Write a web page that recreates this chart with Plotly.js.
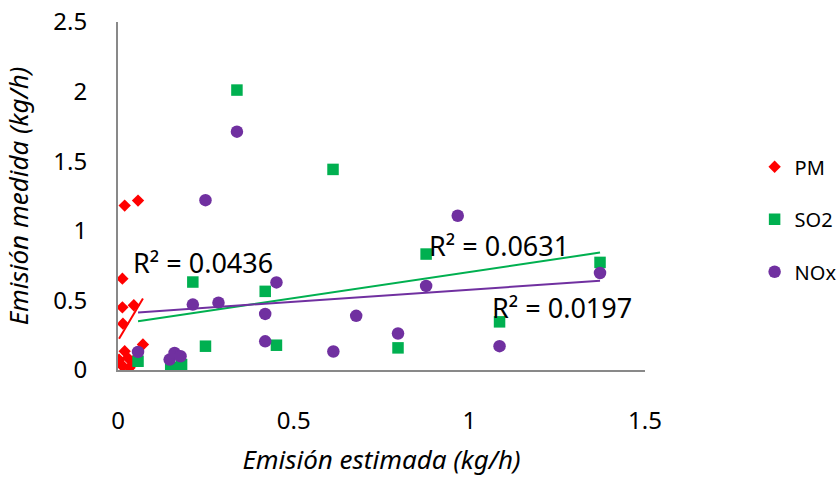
<!DOCTYPE html>
<html>
<head>
<meta charset="utf-8">
<script src="https://cdn.plot.ly/plotly-3.0.1.min.js"></script>
<style>
  html, body { margin: 0; padding: 0; background: #ffffff; }
  #chart { width: 837px; height: 477px; }
</style>
</head>
<body>
<div id="chart"></div>
<script>
// Estimated vs measured emissions (kg/h) for three pollutants

const seriesNames = ['PM', 'SO2', 'NOx'];

const pmX = [0.019, 0.057, 0.0125, 0.0125, 0.045, 0.014, 0.071,
             0.003, 0.019, 0.014, 0.033, 0.052, 0.028, 0.043, 0.008];
const pmY = [1.181, 1.217, 0.656, 0.450, 0.465, 0.333, 0.183,
             0.075, 0.135, 0.027, 0.016, 0.087, 0.087, 0.050, 0.040];

const so2X = [0.3385, 0.612, 0.213, 0.419, 0.249, 0.451, 0.797,
              0.877, 1.372, 1.086, 0.057, 0.150, 0.170, 0.181];
const so2Y = [2.011, 1.441, 0.632, 0.565, 0.171, 0.178, 0.159,
              0.833, 0.773, 0.346, 0.063, 0.018, 0.011, 0.039];

const noxX = [0.3385, 0.249, 0.213, 0.286, 0.451, 0.419, 0.678, 0.419,
              0.613, 0.797, 0.877, 0.967, 1.372, 1.086, 0.057, 0.147, 0.161, 0.178];
const noxY = [1.712, 1.220, 0.470, 0.484, 0.629, 0.403, 0.389, 0.206,
              0.133, 0.262, 0.604, 1.108, 0.697, 0.171, 0.130, 0.075, 0.123, 0.099];

// Linear trendlines (slope, intercept) and their R² values
const trendSlope = [4.26, 0.375, 0.173];
const trendIntercept = [0.211, 0.329, 0.404];
const r2Values = ['0.0436', '0.0631', '0.0197'];

// Where each R² label sits (axis units)
const r2LabelX = [0.036, 0.880, 1.060];
const r2LabelY = [0.770, 0.892, 0.448];

const xTicks = [0, 0.5, 1, 1.5];
const yTicks = [0, 0.5, 1, 1.5, 2, 2.5];

const colors = ['#FF0000', '#00B050', '#7030A0'];
const symbols = ['diamond', 'square', 'circle'];
const sizes = [9.5, 11.5, 12.5];
const FONT = 'Noto Sans, DejaVu Sans, sans-serif';

const xs = [pmX, so2X, noxX];
const ys = [pmY, so2Y, noxY];

const traces = [];
seriesNames.forEach((name, i) => {
  traces.push({
    type: 'scatter', mode: 'markers', name: name,
    x: xs[i], y: ys[i],
    legendgroup: name,
    marker: { color: colors[i], symbol: symbols[i], size: sizes[i], line: { width: 0 } },
    hoverinfo: 'x+y'
  });
});

// Trendlines span each series' own x range
seriesNames.forEach((name, i) => {
  const lo = Math.min(...xs[i]);
  const hi = Math.max(...xs[i]);
  traces.push({
    type: 'scatter', mode: 'lines', showlegend: false,
    x: [lo, hi],
    y: [trendSlope[i] * lo + trendIntercept[i], trendSlope[i] * hi + trendIntercept[i]],
    line: { color: colors[i], width: 2 },
    hoverinfo: 'skip'
  });
});

const annotations = r2Values.map((v, i) => ({
  x: r2LabelX[i], y: r2LabelY[i], xref: 'x', yref: 'y',
  xanchor: 'left', yanchor: 'middle', showarrow: false,
  text: 'R² = ' + v,
  font: { family: FONT, size: 27, color: '#000000' }
}));

const layout = {
  width: 837, height: 477,
  margin: { l: 118.3, r: 191.5, t: 21.7, b: 106.5, autoexpand: false },
  paper_bgcolor: '#ffffff', plot_bgcolor: '#ffffff',
  font: { family: FONT, color: '#000000' },
  showlegend: true,
  legend: {
    x: 1.208, xanchor: 'left', y: 0.64, yanchor: 'top',
    font: { family: FONT, size: 20, color: '#000000' },
    traceorder: 'grouped', tracegroupgap: 23.5,
    bgcolor: 'rgba(0,0,0,0)'
  },
  xaxis: {
    range: [0, 1.5], tickvals: xTicks, ticktext: xTicks.map(String),
    showgrid: false, zeroline: false,
    showline: true, linecolor: '#898989', linewidth: 2,
    ticks: 'outside', ticklen: 28, tickcolor: 'rgba(0,0,0,0)',
    tickfont: { family: FONT, size: 24, color: '#000000' },
    title: { text: 'Emisión estimada (kg/h)', standoff: 18,
             font: { family: FONT, size: 26, style: 'italic', color: '#000000' } }
  },
  yaxis: {
    range: [0, 2.5], tickvals: yTicks, ticktext: yTicks.map(String),
    showgrid: false, zeroline: false,
    showline: true, linecolor: '#898989', linewidth: 2,
    ticks: 'outside', ticklen: 24, tickcolor: 'rgba(0,0,0,0)',
    tickfont: { family: FONT, size: 24, color: '#000000' },
    title: { text: 'Emisión medida (kg/h)', standoff: 18,
             font: { family: FONT, size: 26, style: 'italic', color: '#000000' } }
  },
  annotations: annotations
};

Plotly.newPlot('chart', traces, layout, { displayModeBar: false, staticPlot: true });
</script>
</body>
</html>
